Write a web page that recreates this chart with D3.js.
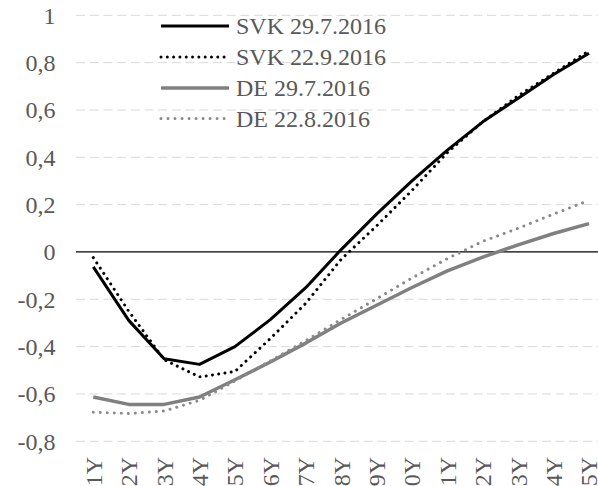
<!DOCTYPE html>
<html><head><meta charset="utf-8">
<script src="https://cdn.jsdelivr.net/npm/d3@7"></script>
<style>html,body{margin:0;padding:0;background:#fff;overflow:hidden}</style>
</head><body>
<script>
const categories = ["1Y","2Y","3Y","4Y","5Y","6Y","7Y","8Y","9Y","10Y","11Y","12Y","13Y","14Y","15Y"];
const svk2907 = [-0.063,-0.289,-0.451,-0.475,-0.40,-0.286,-0.151,0.01,0.16,0.30,0.43,0.55,0.65,0.75,0.84];
const svk2209 = [-0.024,-0.25,-0.455,-0.528,-0.505,-0.366,-0.217,-0.031,0.11,0.26,0.42,0.55,0.66,0.755,0.85];
const de2907 = [-0.613,-0.644,-0.644,-0.613,-0.54,-0.465,-0.385,-0.30,-0.225,-0.15,-0.08,-0.022,0.03,0.078,0.12];
const de2208 = [-0.677,-0.683,-0.672,-0.627,-0.545,-0.46,-0.375,-0.285,-0.198,-0.11,-0.028,0.045,0.10,0.16,0.218];
const yTicks = [-0.8,-0.6,-0.4,-0.2,0,0.2,0.4,0.6,0.8,1];
const seriesNames = ["SVK 29.7.2016","SVK 22.9.2016","DE 29.7.2016","DE 22.8.2016"];

const W = 598, H = 486;
const FS = 24;
const FONT = "Liberation Serif";
const txtColor = "#595959";
const svg = d3.select("body").append("svg").attr("width", W).attr("height", H);

const x = d3.scalePoint().domain(categories).range([93.3, 589]);
const y = d3.scaleLinear().domain([-0.8, 1]).range([441.3, 15.3]);
const left = 76, right = 620;

svg.append("g").selectAll("line").data(yTicks.filter(d => d !== 0)).join("line")
  .attr("x1", left).attr("x2", right)
  .attr("y1", d => y(d)).attr("y2", d => y(d))
  .attr("stroke", "#d9d9d9").attr("stroke-width", 1).attr("stroke-dasharray", "9,4.7");
svg.append("line").attr("x1", left).attr("x2", right).attr("y1", y(0)).attr("y2", y(0))
  .attr("stroke", "#000").attr("stroke-width", 1.2);

const fmt = d => d === 0 ? "0" : (d === 1 ? "1" : d3.format(".1f")(d).replace(".", ",").replace("−","-"));
svg.append("g").selectAll("text").data(yTicks).join("text")
  .attr("x", 55.5).attr("y", d => y(d))
  .attr("dy", "0.35em").attr("text-anchor", "end")
  .attr("font-family", FONT).attr("font-size", FS).attr("fill", txtColor)
  .text(fmt);

svg.append("g").selectAll("text").data(categories).join("text")
  .attr("transform", d => `translate(${x(d)},457) rotate(-90)`)
  .attr("dy", "0.35em").attr("text-anchor", "end")
  .attr("font-family", FONT).attr("font-size", FS).attr("fill", txtColor)
  .text(d => d);

const styles = [
  {data: svk2907, color: "#000", width: 3, dash: null, cap: "butt"},
  {data: svk2209, color: "#000", width: 3, dash: "0.01,6.3", cap: "round"},
  {data: de2907, color: "#808080", width: 3.5, dash: null, cap: "butt"},
  {data: de2208, color: "#8a8a8a", width: 3, dash: "0.01,7", cap: "round"}
];
const line = d3.line().x((d, i) => x(categories[i])).y(d => y(d));
svg.append("g").selectAll("path").data(styles).join("path")
  .attr("d", s => line(s.data))
  .attr("fill", "none").attr("stroke", s => s.color).attr("stroke-width", s => s.width)
  .attr("stroke-dasharray", s => s.dash).attr("stroke-linecap", s => s.cap)
  .attr("stroke-linejoin", "round");

const lg = svg.append("g");
const rows = [26, 57, 88, 118.5];
styles.forEach((s, i) => {
  lg.append("line").attr("x1", 161).attr("x2", 229).attr("y1", rows[i]).attr("y2", rows[i])
    .attr("stroke", s.color).attr("stroke-width", s.width)
    .attr("stroke-dasharray", s.dash).attr("stroke-linecap", s.cap);
  lg.append("text").attr("x", 236).attr("y", rows[i])
    .attr("dy", "0.35em").attr("font-family", FONT).attr("font-size", FS).attr("fill", txtColor).text(seriesNames[i]);
});
</script>
</body></html>
